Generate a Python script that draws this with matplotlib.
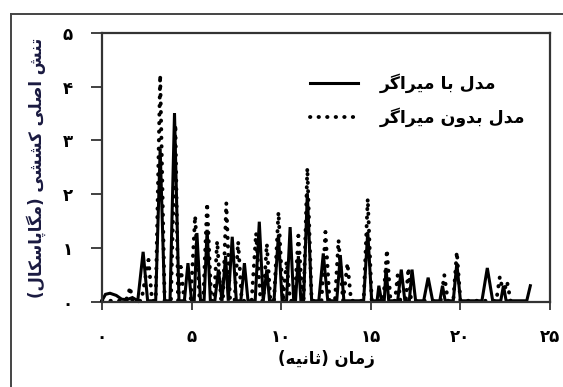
import matplotlib
matplotlib.use("Agg")
import matplotlib.pyplot as plt
from matplotlib.lines import Line2D

# time (s) and principal tensile stress (MPa)
t_with = [0.0, 0.2, 0.45, 0.8, 1.1, 1.4, 1.7, 2.0,
          2.3, 2.55,
          3.0, 3.25, 3.5,
          3.8, 4.05, 4.3,
          4.6, 4.8, 5.0,
          5.15, 5.3, 5.5,
          5.7, 5.87, 6.05,
          6.3, 6.5, 6.7,
          6.9, 7.05,
          7.27, 7.5,
          7.75, 7.95, 8.15,
          8.55, 8.78, 9.0,
          9.2, 9.35,
          9.6, 9.85, 10.05,
          10.3, 10.5, 10.7,
          10.8, 10.96, 11.1,
          11.25, 11.46, 11.7,
          12.1, 12.35, 12.6,
          13.1, 13.3, 13.5,
          14.6, 14.83, 15.05,
          15.35, 15.45, 15.6,
          15.75, 15.85, 16.0,
          16.5, 16.7, 16.9,
          17.15, 17.3, 17.5,
          17.95, 18.2, 18.45,
          18.85, 19.0, 19.15,
          19.6, 19.8, 20.0,
          21.2, 21.5, 21.8,
          22.25, 22.4, 22.55,
          23.7, 23.9]
v_with = [0.02, 0.14, 0.16, 0.12, 0.05, 0.04, 0.08, 0.02,
          0.93, 0.02,
          0.02, 2.85, 0.02,
          0.02, 3.51, 0.02,
          0.02, 0.72, 0.02,
          0.02, 1.28, 0.02,
          0.02, 1.34, 0.02,
          0.02, 0.6, 0.02,
          0.85, 0.02,
          1.21, 0.02,
          0.02, 0.72, 0.02,
          0.02, 1.49, 0.02,
          0.6, 0.02,
          0.02, 1.25, 0.02,
          0.02, 1.39, 0.02,
          0.02, 0.85, 0.02,
          0.02, 2.02, 0.02,
          0.02, 0.9, 0.02,
          0.02, 0.87, 0.02,
          0.02, 1.3, 0.02,
          0.02, 0.3, 0.02,
          0.02, 0.63, 0.02,
          0.02, 0.6, 0.02,
          0.02, 0.6, 0.02,
          0.02, 0.45, 0.02,
          0.02, 0.3, 0.02,
          0.02, 0.72, 0.02,
          0.02, 0.63, 0.02,
          0.02, 0.3, 0.02,
          0.02, 0.3]

t_without = [0.0, 1.3, 1.45, 1.57, 1.7, 2.2,
             2.6, 2.8,
             3.0, 3.25, 3.5,
             3.85, 4.1, 4.25,
             4.4, 4.6,
             4.95, 5.2, 5.45,
             5.65, 5.87, 6.1,
             6.25, 6.43, 6.65,
             6.75, 6.94, 7.15,
             7.4, 7.6, 7.8,
             8.35, 8.6, 8.85,
             9.0, 9.2, 9.4,
             9.6, 9.85, 10.1,
             10.3, 10.5,
             10.75, 10.96, 11.2,
             11.25, 11.46, 11.7,
             12.25, 12.47, 12.7,
             13.0, 13.2, 13.45,
             13.7, 13.9,
             14.6, 14.83, 15.05,
             15.7, 15.9, 16.1,
             16.35, 16.5, 16.65,
             16.95, 17.1, 17.25,
             18.9, 19.1, 19.3,
             19.6, 19.8, 20.0,
             22.0, 22.2, 22.4, 22.6, 22.8]
v_without = [0.02, 0.02, 0.1, 0.28, 0.02, 0.02,
             0.78, 0.02,
             0.02, 4.22, 0.02,
             0.02, 3.3, 0.02,
             0.65, 0.02,
             0.02, 1.6, 0.02,
             0.02, 1.84, 0.02,
             0.02, 1.13, 0.02,
             0.02, 1.84, 0.02,
             0.02, 1.12, 0.02,
             0.02, 1.28, 0.02,
             0.02, 1.08, 0.02,
             0.02, 1.67, 0.02,
             0.75, 0.02,
             0.02, 1.23, 0.02,
             0.02, 2.49, 0.02,
             0.02, 1.3, 0.02,
             0.02, 1.15, 0.02,
             0.72, 0.02,
             0.02, 1.92, 0.02,
             0.02, 0.97, 0.02,
             0.02, 0.5, 0.02,
             0.02, 0.63, 0.02,
             0.02, 0.5, 0.02,
             0.02, 0.93, 0.02,
             0.02, 0.47, 0.15, 0.38, 0.02]

x_ticks = [0, 5, 10, 15, 20, 25]
x_tick_labels = ["۰", "۵", "۱۰", "۱۵", "۲۰", "۲۵"]
y_ticks = [0, 1, 2, 3, 4, 5]
y_tick_labels = ["۰", "۱", "۲", "۳", "۴", "۵"]

label_with = "مدل با میراگر"
label_without = "مدل بدون میراگر"
x_label = "زمان (ثانیه)"
y_label = "تنش اصلی کششی (مگاپاسکال)"

# matplotlib does no Arabic shaping, so pick the joined glyph forms by hand
# letter: (isolated, final, initial, medial)
FORMS = {
    "ا": ("\uFE8D", "\uFE8E", None, None),
    "ب": ("\uFE8F", "\uFE90", "\uFE91", "\uFE92"),
    "پ": ("\uFB56", "\uFB57", "\uFB58", "\uFB59"),
    "ت": ("\uFE95", "\uFE96", "\uFE97", "\uFE98"),
    "ث": ("\uFE99", "\uFE9A", "\uFE9B", "\uFE9C"),
    "د": ("\uFEA9", "\uFEAA", None, None),
    "ر": ("\uFEAD", "\uFEAE", None, None),
    "ز": ("\uFEAF", "\uFEB0", None, None),
    "س": ("\uFEB1", "\uFEB2", "\uFEB3", "\uFEB4"),
    "ش": ("\uFEB5", "\uFEB6", "\uFEB7", "\uFEB8"),
    "ص": ("\uFEB9", "\uFEBA", "\uFEBB", "\uFEBC"),
    "ل": ("\uFEDD", "\uFEDE", "\uFEDF", "\uFEE0"),
    "م": ("\uFEE1", "\uFEE2", "\uFEE3", "\uFEE4"),
    "ن": ("\uFEE5", "\uFEE6", "\uFEE7", "\uFEE8"),
    "ه": ("\uFEE9", "\uFEEA", "\uFEEB", "\uFEEC"),
    "و": ("\uFEED", "\uFEEE", None, None),
    "ک": ("\uFB8E", "\uFB8F", "\uFB90", "\uFB91"),
    "گ": ("\uFB92", "\uFB93", "\uFB94", "\uFB95"),
    "ی": ("\uFBFC", "\uFBFD", "\uFBFE", "\uFBFF"),
}


def fa(text):
    out = []
    for i, ch in enumerate(text):
        if ch not in FORMS:
            out.append(ch)
            continue
        prev = text[i - 1] if i > 0 else ""
        nxt = text[i + 1] if i + 1 < len(text) else ""
        join_prev = prev in FORMS and FORMS[prev][2] is not None
        join_next = FORMS[ch][2] is not None and nxt in FORMS
        iso, fin, ini, med = FORMS[ch]
        if join_prev and join_next:
            out.append(med)
        elif join_prev:
            out.append(fin)
        elif join_next:
            out.append(ini)
        else:
            out.append(iso)
    mirror = {"(": ")", ")": "("}
    return "".join(mirror.get(c, c) for c in reversed(out))


plt.rcParams["font.family"] = ["DejaVu Sans"]

fig = plt.figure(figsize=(5.63, 3.87), dpi=100)
ax = fig.add_axes([0.181, 0.22, 0.796, 0.695])

ax.plot(t_without, v_without, color="black", linewidth=2.8,
        linestyle=(0, (0.1, 2.1)), dash_capstyle="round",
        label=fa(label_without), clip_on=False)
ax.plot(t_with, v_with, color="black", linewidth=2.2,
        solid_joinstyle="miter", label=fa(label_with), clip_on=False)

ax.set_xlim(0, 25)
ax.set_ylim(0, 5)
ax.set_xticks(x_ticks)
ax.set_xticklabels(x_tick_labels, fontsize=12, fontweight="bold")
ax.set_yticks(y_ticks)
ax.set_yticklabels(y_tick_labels, fontsize=12, fontweight="bold")
ax.tick_params(axis="x", direction="out", length=6, width=1.3, pad=13,
               color="#333333")
ax.tick_params(axis="y", direction="out", length=8, width=1.3, pad=13,
               color="#333333")
for side in ax.spines.values():
    side.set_linewidth(1.6)
    side.set_color("#333333")

ax.set_xlabel(fa(x_label), fontsize=12, fontweight="bold", labelpad=3)
ax.set_ylabel(fa(y_label), fontsize=12, fontweight="bold", labelpad=12,
              color="#1a1a40")

handles, labels = ax.get_legend_handles_labels()
ax.legend(handles[::-1], labels[::-1], loc="upper left",
          bbox_to_anchor=(0.465, 0.85), frameon=False,
          prop={"size": 12.5, "weight": "bold"}, handlelength=2.75,
          handletextpad=1.25, labelspacing=0.85, borderpad=0, borderaxespad=0)

# outer frame of the original figure (top and left edges only)
fig.add_artist(Line2D([11 / 563, 1.0], [1 - 14 / 387, 1 - 14 / 387],
                      transform=fig.transFigure, color="#444444", linewidth=1.4))
fig.add_artist(Line2D([11 / 563, 11 / 563], [0.0, 1 - 14 / 387],
                      transform=fig.transFigure, color="#444444", linewidth=1.4))

fig.savefig("out.png", dpi=100)
